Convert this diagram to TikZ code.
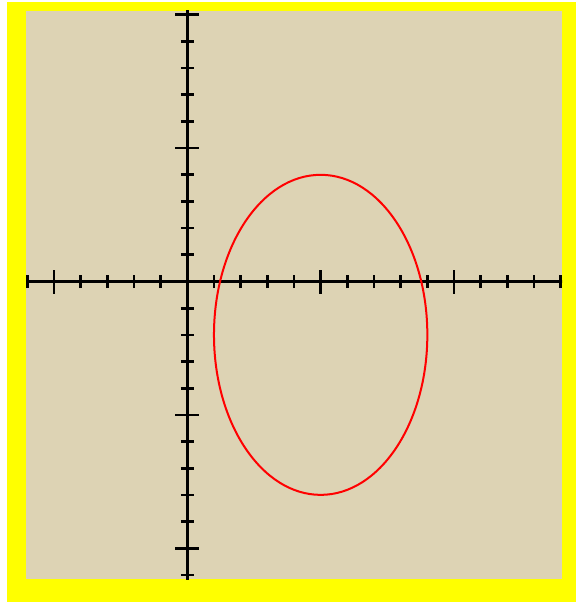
\documentclass[tikz,border=0pt]{standalone}
\definecolor{paper}{RGB}{221,211,180}
\definecolor{frameyellow}{RGB}{255,255,0}
\definecolor{curvered}{RGB}{255,0,0}
\tikzset{
  axisline/.style={line width=2pt, black},
  minortick/.style={line width=2pt, black},
  majortick/.style={line width=2pt, black},
  curve/.style={line width=1.5pt, curvered}
}
\begin{document}
\begin{tikzpicture}[x=20pt,y=20pt]
  % page and frame
  \fill[white] (-7.023,10.555) rectangle (14.575,-12.017);
  \useasboundingbox (-7.023,10.555) rectangle (14.575,-12.017);
  \fill[frameyellow] (-6.760,10.480) rectangle (14.575,-12.017);
  \fill[paper] (-6.048,10.143) rectangle (14.050,-11.155);
  \begin{scope}
    \clip (-6.048,10.143) rectangle (14.050,-11.155);
    % axes
    \draw[axisline] (-6.1,0) -- (14.1,0);
    \draw[axisline] (0,10.2) -- (0,-11.2);
    % x ticks
    \foreach \i in {-6,-4,-3,-2,-1,1,2,3,4,6,7,8,9,11,12,13,14}
      \draw[minortick] (\i,-0.244) -- (\i,0.244);
    \foreach \i in {-5,5,10}
      \draw[majortick] (\i,-0.45) -- (\i,0.45);
    % y ticks
    \foreach \j in {-11,-9,-8,-7,-6,-4,-3,-2,-1,1,2,3,4,6,7,8,9}
      \draw[minortick] (-0.244,\j) -- (0.244,\j);
    \foreach \j in {-10,-5,5,10}
      \draw[majortick] (-0.45,\j) -- (0.45,\j);
    % ellipse
    \draw[curve] (5,-2) ellipse [x radius=4, y radius=6];
  \end{scope}
\end{tikzpicture}
\end{document}
